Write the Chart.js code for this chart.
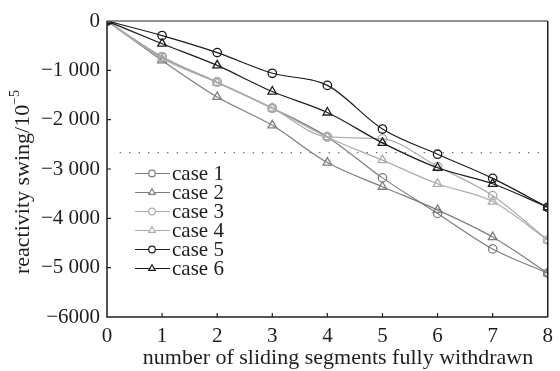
<!DOCTYPE html>
<html>
<head>
<meta charset="utf-8">
<script src="https://cdn.jsdelivr.net/npm/chart.js@4.4.1/dist/chart.umd.min.js"></script>
<style>
  html, body { margin: 0; padding: 0; background: #fff; }
  #wrap { width: 560px; height: 371px; position: relative; }
</style>
</head>
<body>
<div id="wrap"><canvas id="chart"></canvas></div>
<script>
// segments withdrawn (x values)
const segments = [0, 1, 2, 3, 4, 5, 6, 7, 8];

const case1 = [0, -730, -1240, -1765, -2350, -3180, -3900, -4620, -5110];
const case2 = [0, -800, -1540, -2115, -2870, -3360, -3830, -4380, -5110];
const case3 = [0, -720, -1240, -1770, -2350, -2390, -2950, -3540, -4440];
const case4 = [0, -760, -1250, -1770, -2355, -2820, -3300, -3660, -4440];
const case5 = [0, -295, -640, -1060, -1305, -2190, -2700, -3190, -3775];
const case6 = [0, -460, -900, -1430, -1855, -2470, -2975, -3300, -3775];

const caseNames = ["case 1", "case 2", "case 3", "case 4", "case 5", "case 6"];

// dotted reference line
const refLineY = -2670;
const refLineX = [0.23, 8];

const yTickLabels = ["0", "\u22121 000", "\u22122 000", "\u22123 000", "\u22124 000", "\u22125 000", "\u22126000"];
const xTickLabels = ["0", "1", "2", "3", "4", "5", "6", "7", "8"];
const xTitle = "number of sliding segments fully withdrawn";
const yTitle = "reactivity swing/10";
const yTitleSup = "\u22125";

const FONT = "'Liberation Serif', 'Times New Roman', serif";
const INK = "#1e1e1e";

function makeSeries(values, name, color, style, order) {
    return {
        label: name,
        data: values.map((v, i) => ({ x: segments[i], y: v })),
        borderColor: color,
        backgroundColor: "rgba(0,0,0,0)",
        borderWidth: 1.2,
        pointStyle: style,
        pointRadius: style === "triangle" ? 5 : 4.2,
        pointBorderWidth: 1.3,
        pointBorderColor: color,
        pointBackgroundColor: "rgba(0,0,0,0)",
        cubicInterpolationMode: "monotone",
        fill: false,
        order: order
    };
}

const datasets = [
    makeSeries(case1, caseNames[0], "#7d7d7d", "circle", 5),
    makeSeries(case2, caseNames[1], "#7d7d7d", "triangle", 4),
    makeSeries(case3, caseNames[2], "#acacac", "circle", 3),
    makeSeries(case4, caseNames[3], "#acacac", "triangle", 2),
    makeSeries(case5, caseNames[4], "#1c1c1c", "circle", 1),
    makeSeries(case6, caseNames[5], "#1c1c1c", "triangle", 0),
    {
        label: "ref",
        data: refLineX.map(x => ({ x: x, y: refLineY })),
        borderColor: "#555",
        borderWidth: 1.2,
        borderDash: [1.2, 8.3],
        pointRadius: 0,
        fill: false,
        order: 9
    }
];

// frame, inside ticks, legend and axis titles
const decor = {
    id: "decor",
    afterDatasetsDraw(chart) {
        const { ctx, chartArea: a, scales } = chart;
        ctx.save();
        // top + right frame
        ctx.lineWidth = 1.5;
        ctx.strokeStyle = "#6e6e6e";
        ctx.beginPath();
        ctx.moveTo(a.left, a.top);
        ctx.lineTo(a.right, a.top);
        ctx.stroke();
        ctx.strokeStyle = INK;
        ctx.beginPath();
        ctx.moveTo(a.right, a.top);
        ctx.lineTo(a.right, a.bottom);
        ctx.stroke();
        // left + bottom axis
        ctx.beginPath();
        ctx.moveTo(a.left, a.top);
        ctx.lineTo(a.left, a.bottom);
        ctx.lineTo(a.right, a.bottom);
        ctx.stroke();
        // inside ticks
        ctx.lineWidth = 1.2;
        ctx.beginPath();
        for (let v = -1000; v > -6000; v -= 1000) {
            const y = scales.y.getPixelForValue(v);
            ctx.moveTo(a.left, y);
            ctx.lineTo(a.left + 4, y);
        }
        for (let s = 1; s < 8; s++) {
            const x = scales.x.getPixelForValue(s);
            ctx.moveTo(x, a.bottom);
            ctx.lineTo(x, a.bottom - 4);
        }
        ctx.stroke();

        // legend
        ctx.textBaseline = "middle";
        ctx.textAlign = "left";
        for (let i = 0; i < 6; i++) {
            const ds = chart.data.datasets[i];
            const y = 173.5 + i * 19;
            ctx.strokeStyle = ds.borderColor;
            ctx.lineWidth = 1.2;
            ctx.beginPath();
            ctx.moveTo(135, y);
            ctx.lineTo(170, y);
            ctx.stroke();
            ctx.fillStyle = "#fff";
            Chart.helpers.drawPoint(ctx, {
                pointStyle: ds.pointStyle,
                radius: ds.pointStyle === "triangle" ? 3.8 : 3.3,
                borderWidth: 1.1,
                rotation: 0
            }, 152, y);
            ctx.fillStyle = INK;
            ctx.font = "21px " + FONT;
            ctx.fillText(ds.label, 172, y + 1);
        }

        // x title
        ctx.fillStyle = INK;
        ctx.font = "22px " + FONT;
        ctx.textAlign = "center";
        ctx.textBaseline = "alphabetic";
        ctx.fillText(xTitle, 338, 364);

        // y title with superscript
        ctx.textAlign = "left";
        ctx.translate(22, 182);
        ctx.rotate(-Math.PI / 2);
        ctx.font = "14px " + FONT;
        const supW = ctx.measureText(yTitleSup).width;
        ctx.font = "22px " + FONT;
        const mainW = ctx.measureText(yTitle).width;
        const start = -(mainW + supW) / 2;
        ctx.fillText(yTitle, start, 7);
        ctx.font = "14px " + FONT;
        ctx.fillText(yTitleSup, start + mainW, -3);
        ctx.restore();
    }
};

new Chart(document.getElementById("chart"), {
    type: "line",
    data: { datasets },
    options: {
        responsive: true,
        maintainAspectRatio: false,
        animation: false,
        layout: { padding: { top: 21, right: 7, left: 0, bottom: 0 } },
        plugins: {
            legend: { display: false },
            tooltip: { enabled: false }
        },
        scales: {
            x: {
                type: "linear",
                min: 0,
                max: 8,
                afterFit(scale) { scale.height = 54; },
                afterBuildTicks(scale) { scale.ticks = segments.map(v => ({ value: v })); },
                grid: { display: false, drawTicks: false },
                border: { display: false },
                ticks: {
                    padding: 7,
                    color: INK,
                    font: { family: FONT, size: 21 },
                    callback: v => xTickLabels[v]
                }
            },
            y: {
                type: "linear",
                min: -6000,
                max: 0,
                afterFit(scale) { scale.width = 107; },
                afterBuildTicks(scale) {
                    scale.ticks = yTickLabels.map((t, i) => ({ value: -1000 * i }));
                },
                grid: { display: false, drawTicks: false },
                border: { display: false },
                ticks: {
                    padding: 7,
                    color: INK,
                    font: { family: FONT, size: 21 },
                    callback: v => yTickLabels[Math.round(-v / 1000)]
                }
            }
        }
    },
    plugins: [decor]
});
</script>
</body>
</html>
